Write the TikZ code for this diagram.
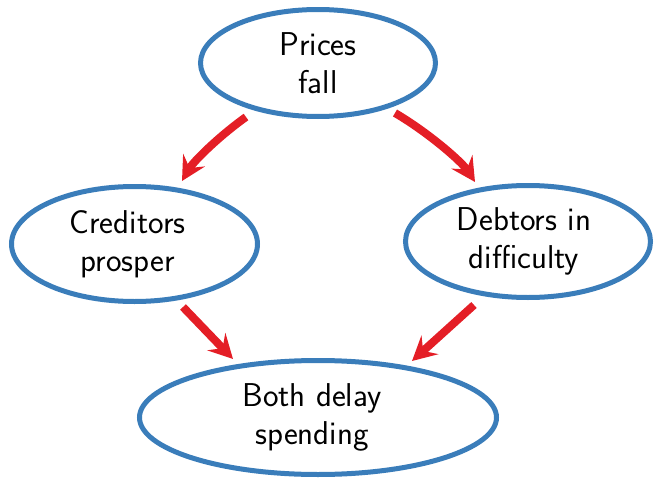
\documentclass[tikz,border=0pt]{standalone}
\usetikzlibrary{arrows.meta,calc,shapes.geometric}
\definecolor{ellblue}{RGB}{58,125,186}
\definecolor{arrred}{RGB}{228,30,38}
\newcommand{\lft}[1]{\hspace*{-#1pt}}
\begin{document}
\begin{tikzpicture}[x=1pt,y=-1pt,
  ell/.style={draw=ellblue,line width=5pt,ellipse,inner sep=0pt,align=center,
    font=\fontsize{33}{38}\selectfont\sffamily},
  arr/.style={draw=arrred,line width=8pt,
    -{Stealth[length=24pt,width=25pt,inset=9pt]}}]
\useasboundingbox (0,0) rectangle (654,479);
\node[ell,minimum width=235pt,minimum height=107pt] (p) at (318,63) {Prices\\fall};
\node[ell,minimum width=246pt,minimum height=115pt] (c) at (134.5,244) {\lft{14}Creditors\\\lft{14}prosper};
\node[ell,minimum width=245pt,minimum height=112pt] (d) at (528,241.5) {\lft{8}Debtors in\\\lft{8}difficulty};
\node[ell,minimum width=357pt,minimum height=114pt] (b) at (318,417.5) {\lft{12}Both delay\\\lft{12}spending};
\draw[arr] ($(p.center)+(-72,54)$) .. controls +(-28,20) and +(11,-19) .. ($(c.center)+(47.5,-63)$);
\draw[arr] ($(p.center)+(77,50)$) .. controls +(34,20) and +(-13,-20) .. ($(d.center)+(-53,-59.5)$);
\draw[arr] ($(c.center)+(48.5,63)$) -- ($(b.center)+(-85,-58.5)$);
\draw[arr] ($(d.center)+(-54,63.5)$) -- ($(b.center)+(94,-56.5)$);
\end{tikzpicture}
\end{document}
